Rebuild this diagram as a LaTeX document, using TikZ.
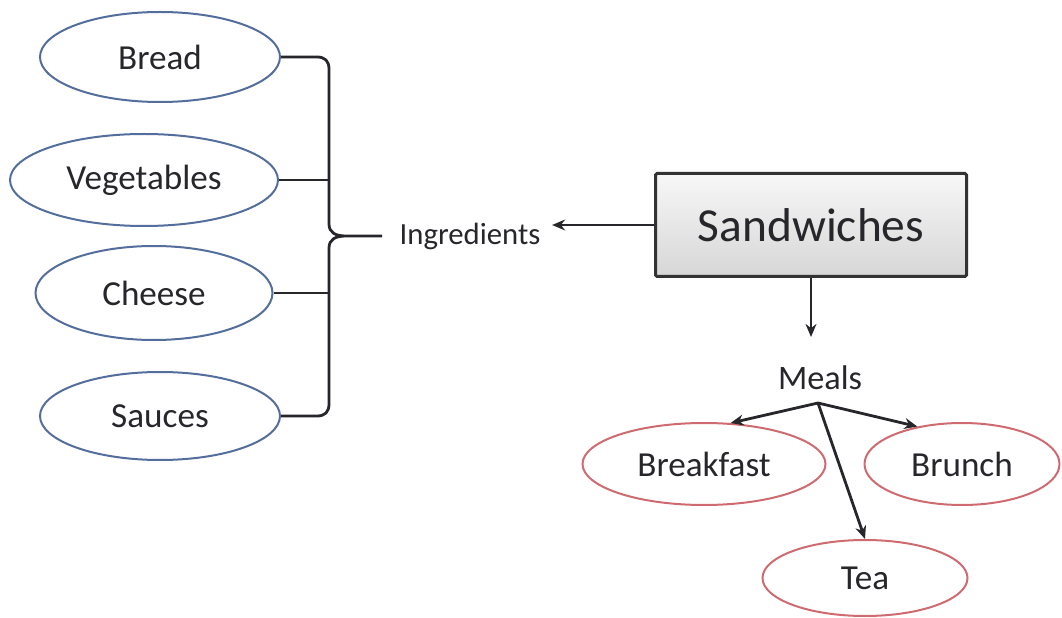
\documentclass[tikz,border=0pt]{standalone}
\usepackage{fontspec}
\setmainfont{Carlito}
\usetikzlibrary{shapes.geometric,arrows.meta}

\newlength{\du}
\setlength{\du}{0.02cm}

\definecolor{leafblue}{rgb}{0.330000, 0.430000, 0.610000}
\definecolor{mealred}{rgb}{0.810000, 0.420000, 0.440000}
\definecolor{inkgray}{rgb}{0.150000, 0.150000, 0.170000}

\tikzset{
  leaf/.style={ellipse, draw=leafblue, line width=2\du, inner sep=0pt,
    text=inkgray, font=\fontsize{20}{24}\selectfont},
  meal/.style={ellipse, draw=mealred, line width=2\du, inner sep=0pt,
    text=inkgray, font=\fontsize{20}{24}\selectfont},
  topic/.style={rectangle, draw=black!80, line width=3\du, rounded corners=1.5\du,
    top color=gray!6, bottom color=gray!32, text=inkgray,
    font=\fontsize{27}{32}\selectfont},
  tag/.style={text=inkgray, inner sep=2pt},
  link/.style={draw=inkgray, line width=2.8\du},
  arrow/.style={link, -{Stealth[length=7.4pt, width=6.2pt]}},
}

\begin{document}
\begin{tikzpicture}[yscale=-1]
\useasboundingbox (0,0) rectangle (1062\du,618\du);

% ingredients
\node[leaf, minimum width=240\du, minimum height=90\du] (bread) at (160\du,57\du) {Bread};
\node[leaf, minimum width=268\du, minimum height=92\du] (veg) at (144\du,180\du) {Vegetables};
\node[leaf, minimum width=237\du, minimum height=94\du] (cheese) at (154\du,293\du) {Cheese};
\node[leaf, minimum width=240\du, minimum height=88\du] (sauces) at (160\du,416\du) {Sauces};

\node[tag, font=\fontsize{17.5}{21}\selectfont] (ingr) at (470\du,236\du) {Ingredients};

% main box
\node[topic, minimum width=311\du, minimum height=103\du] (sand) at (811\du,225\du) {Sandwiches};

% meals
\node[tag, font=\fontsize{19.5}{23}\selectfont] (meals) at (820\du,378\du) {Meals};
\node[meal, minimum width=243\du, minimum height=82\du] (brk) at (704\du,464\du) {Breakfast};
\node[meal, minimum width=195\du, minimum height=82\du] (brunch) at (962\du,464\du) {Brunch};
\node[meal, minimum width=205\du, minimum height=76\du] (tea) at (865\du,578\du) {Tea};

\coordinate (spine) at (329\du,236\du);
\coordinate (tip) at (382\du,236\du);
\coordinate (fork) at (818\du,403\du);

% brace
\draw[link] (bread.east) -- (317\du,57\du) .. controls (325\du,57\du) and (329\du,61\du) .. (329\du,69\du)
  -- (329\du,224\du) .. controls (329\du,233\du) and (336\du,236\du) .. (346\du,236\du) -- (tip)
  -- (346\du,236\du) .. controls (336\du,236\du) and (329\du,239\du) .. (329\du,248\du)
  -- (329\du,404\du) .. controls (329\du,412\du) and (325\du,416\du) .. (317\du,416\du) -- (sauces.east);
\draw[link] (veg.east) -- (veg.east -| spine);
\draw[link] (cheese.east) -- (cheese.east -| spine);

% arrows
\draw[arrow, shorten >=4.5pt] (sand.west) -- (sand.west -| ingr.east);
\draw[arrow] (sand.south) -- ++(0,59\du);
\draw[arrow] (fork) -- (brk.57);
\draw[arrow] (fork) -- (brunch.140);
\draw[arrow] (fork) -- (tea.north);
\end{tikzpicture}
\end{document}
